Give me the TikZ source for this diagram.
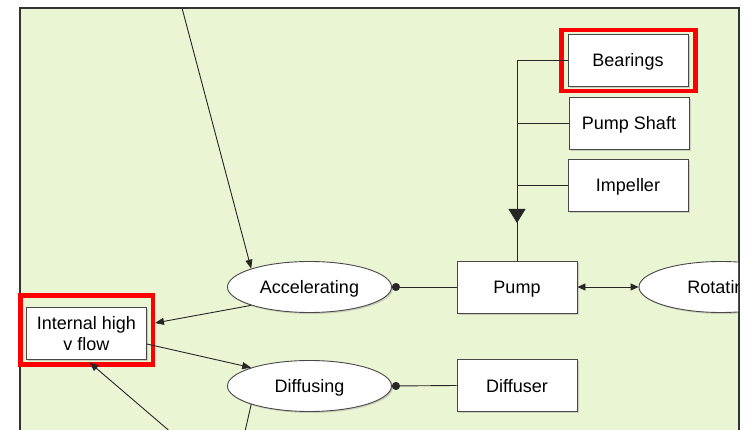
\documentclass[tikz,border=0pt]{standalone}
\usepackage{fontspec}
\setmainfont{Liberation Sans}
\usetikzlibrary{arrows.meta,shadows,shapes.geometric}

\definecolor{panelgreen}{RGB}{234,245,212}
\definecolor{edgegray}{RGB}{72,72,72}

\begin{document}
\begin{tikzpicture}[
  x=1pt, y=-1pt,
  every node/.style={font=\fontsize{18}{21}\selectfont, align=center},
  part/.style={rectangle, draw=edgegray, fill=white, line width=0.9pt, minimum width=120pt, minimum height=52pt, inner sep=0pt,
    text depth=0pt, drop shadow={shadow xshift=1.8pt, shadow yshift=-1.8pt, opacity=0.3}},
  action/.style={ellipse, draw=edgegray, fill=white, line width=0.9pt, minimum width=164pt, minimum height=51pt, inner sep=0pt,
    text depth=0pt, drop shadow={shadow xshift=1.5pt, shadow yshift=-1.5pt, opacity=0.3}},
  link/.style={draw=black!85, line width=0.9pt},
  flow/.style={link, -{Triangle[length=9pt,width=7pt]}},
  hilite/.style={draw=red, line width=4.5pt}
]
\useasboundingbox (0,0) rectangle (748,430);
\fill[white] (0,0) rectangle (748,430);
\fill[panelgreen] (19.5,8.3) rectangle (739,440);
\draw[edgegray!70!black, line width=2pt] (19.5,440) |- (739,8.3) -- (739,440);

\begin{scope}
\clip (0,9.3) rectangle (738,440);

% process ellipses
\node[action] (accel) at (309.5,287) {Accelerating};
\node[action] (diffusing) at (309.5,386) {Diffusing};
\node[action] (rotating) at (721,287) {Rotating};

% parts
\node[part] (internal) at (86.5,333) {Internal high\\v flow};
\node[part] (pump) at (517,287) {Pump};
\node[part] (diffuser) at (517,385.5) {Diffuser};
\node[part] (bearings) at (628,60) {Bearings};
\node[part] (shaft) at (629,123) {Pump Shaft};
\node[part] (impeller) at (628,185) {Impeller};

\draw[hilite] ([shift={(-6,-3.5)}]bearings.north west) rectangle ([shift={(7,4.8)}]bearings.south east);
\draw[hilite] ([shift={(-5.4,-11)}]internal.north west) rectangle ([shift={(6,5.3)}]internal.south east);

\coordinate (feed) at (182,8);
\coordinate (return) at (180,440);
\coordinate (drain) at (243,440);
\coordinate (merge) at (517,223);

\draw[flow] (feed) -- (accel.north west);
\draw[flow] (accel.south west) -- ([shift={(8,-10)}]internal.east);
\draw[flow] ([yshift=-11pt]internal.east) -- (diffusing.north west);
\draw[flow] (return) -- ([shift={(3,3)}]internal.south);
\draw[link] (diffusing.south west) -- (drain);

\draw[link, {Circle[length=8pt]}-] (accel.east) -- (pump.west);
\draw[link, {Circle[length=8pt]}-] (diffusing.east) -- (diffuser.west);
\draw[link, {Triangle[length=8pt,width=7pt]}-{Triangle[length=8pt,width=7pt]}] (pump.east) -- (rotating.west);

% parts feeding the pump
\draw[link] (bearings.west) -| (pump.north);
\draw[link] (shaft.west) -- (shaft.west -| pump.north);
\draw[link] (impeller.west) -- (impeller.west -| pump.north);
\draw[link, -{Triangle[length=14pt,width=17pt]}] (impeller.west -| pump.north) -- (merge);
\end{scope}
\end{tikzpicture}
\end{document}
